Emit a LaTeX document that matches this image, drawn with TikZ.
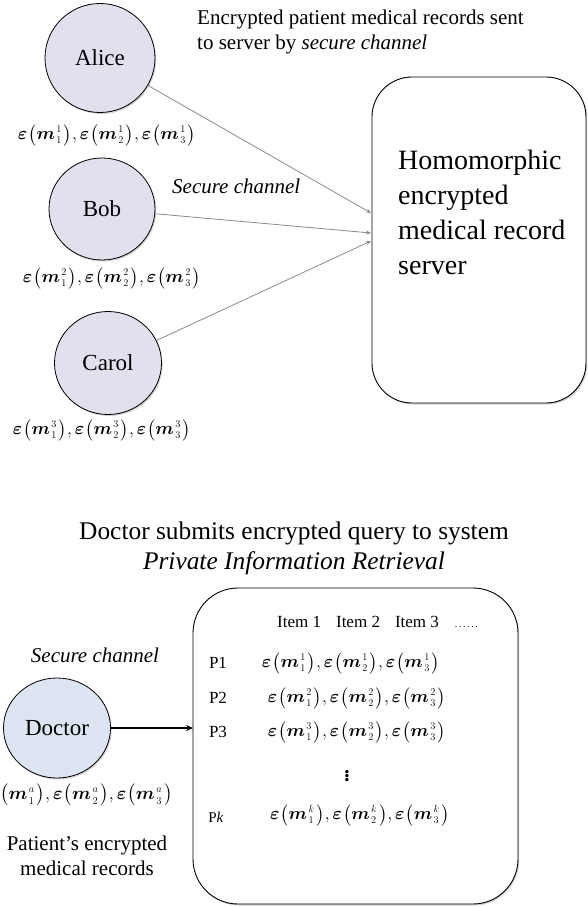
\documentclass[tikz,border=0pt]{standalone}
\usepackage{amsmath,bm}
\usepackage{fontspec}
\setmainfont{Liberation Serif}
\usetikzlibrary{shapes.geometric,arrows.meta,shadows}
\definecolor{lav}{HTML}{E3DFEC}
\definecolor{docblue}{HTML}{DCE5F1}
\definecolor{linegray}{HTML}{8A8A8A}
\newcommand\encidx[2]{{}^{\scriptscriptstyle #2}_{\scriptscriptstyle #1}}
\newcommand\encm[2]{\bm{\varepsilon}\mkern1mu\bigl(\bm{m}\mkern1.5mu\encidx{#1}{#2}\mkern2mu\bigr)}
\newcommand\encrow[1]{\scalebox{0.86}{$\encm{1}{#1},\encm{2}{#1},\encm{3}{#1}$}}
\newcommand\tinydots{\fontsize{10}{10}\selectfont .\kern1.6pt.\kern1.6pt.\kern1.6pt.\kern1.6pt.\kern1.6pt.}
\tikzset{
  softshadow/.style={drop shadow={shadow xshift=1.2pt, shadow yshift=-1.5pt, opacity=0.18, fill=black}},
  person/.style={ellipse, draw, line width=0.8pt, inner sep=0pt, softshadow, font=\fontsize{23}{26}\selectfont},
  formula/.style={inner sep=0pt, font=\fontsize{20.74}{24}\selectfont},
  txt/.style={inner sep=0pt, font=\fontsize{21}{24.5}\selectfont, align=left},
  bigbox/.style={draw, line width=0.9pt, fill=white, rounded corners=40pt, softshadow},
  feed/.style={draw=linegray, line width=0.8pt, -{Stealth[length=5pt,width=4pt]}},
  query/.style={draw=black, line width=1.8pt, -{Stealth[length=7pt,width=6pt]}},
  plabel/.style={inner sep=0pt, font=\fontsize{17}{20}\selectfont},
}
\begin{document}
\begin{tikzpicture}[x=1pt,y=-1pt]
\useasboundingbox (0,0) rectangle (588,907);
% ---------- top part ----------
\node[txt, anchor=north west] (toptext) at (197,10) {Encrypted patient medical records sent\\to server by \textit{secure channel}};
\node[person, fill=lav, minimum width=110pt, minimum height=109pt] (alice) at (100,58) {Alice};
\node[person, fill=lav, minimum width=106pt, minimum height=102pt] (bob) at (102,209) {Bob};
\node[person, fill=lav, minimum width=107pt, minimum height=103pt] (carol) at (108,363) {Carol};
\node[formula] (fa) at (107,135) {\encrow{1}};
\node[formula] (fb) at (112,278) {\encrow{2}};
\node[formula] (fc) at (102,430) {\encrow{3}};
\node[txt, anchor=west] (sc1) at (172,186) {\textit{Secure channel}};
\path[bigbox] (372,77) rectangle (586,403);
\node[inner sep=0pt, anchor=north west, align=left, font=\fontsize{28}{35}\selectfont] (server) at (398,150) {Homomorphic\\encrypted\\medical record\\server};
\coordinate (ia) at (371,213);
\coordinate (ib) at (371,233);
\coordinate (ic) at (371,241);
\draw[feed] (alice) -- (ia);
\draw[feed] (bob) -- (ib);
\draw[feed] (carol) -- (ic);
% ---------- bottom part ----------
\node[inner sep=0pt, align=center, font=\fontsize{25.4}{30}\selectfont] (head) at (294,548) {Doctor submits encrypted query to system\\\textit{Private Information Retrieval}};
\path[bigbox, rounded corners=45pt] (193,588) rectangle (518,904);
\coordinate (qin) at (193,728);
\node[txt] (sc2) at (95,655) {\textit{Secure channel}};
\node[person, fill=docblue, minimum width=107pt, minimum height=100pt] (doctor) at (57,728) {Doctor};
\draw[query] (doctor) -- (qin);
\node[formula, anchor=west] (fd) at (0,795) {\scalebox{0.88}{$\bigl(\bm{m}\mkern1.5mu\encidx{1}{a}\mkern2mu\bigr),\encm{2}{a},\encm{3}{a}$}};
\node[txt, align=center] (pat) at (87,856) {Patient’s encrypted\\medical records};
\node[inner sep=0pt, anchor=west, font=\fontsize{17}{20}\selectfont] (items) at (277,622) {Item 1\hspace{15pt}Item 2\hspace{15pt}Item 3\hspace{16pt}\tinydots};
\node[plabel] (p1) at (218,663) {P1};
\node[plabel] (p2) at (218,698) {P2};
\node[plabel] (p3) at (218,732) {P3};
\node[plabel, font=\fontsize{15}{18}\selectfont] (pk) at (216,817) {P\textit{k}};
\node[formula] (r1) at (351,663) {\encrow{1}};
\node[formula] (r2) at (357,698) {\encrow{2}};
\node[formula] (r3) at (357,732) {\encrow{3}};
\node[formula] (rv) at (347,773) {$\bm{\vdots}$};
\node[formula] (rk) at (360,815) {\encrow{k}};
\end{tikzpicture}
\end{document}
